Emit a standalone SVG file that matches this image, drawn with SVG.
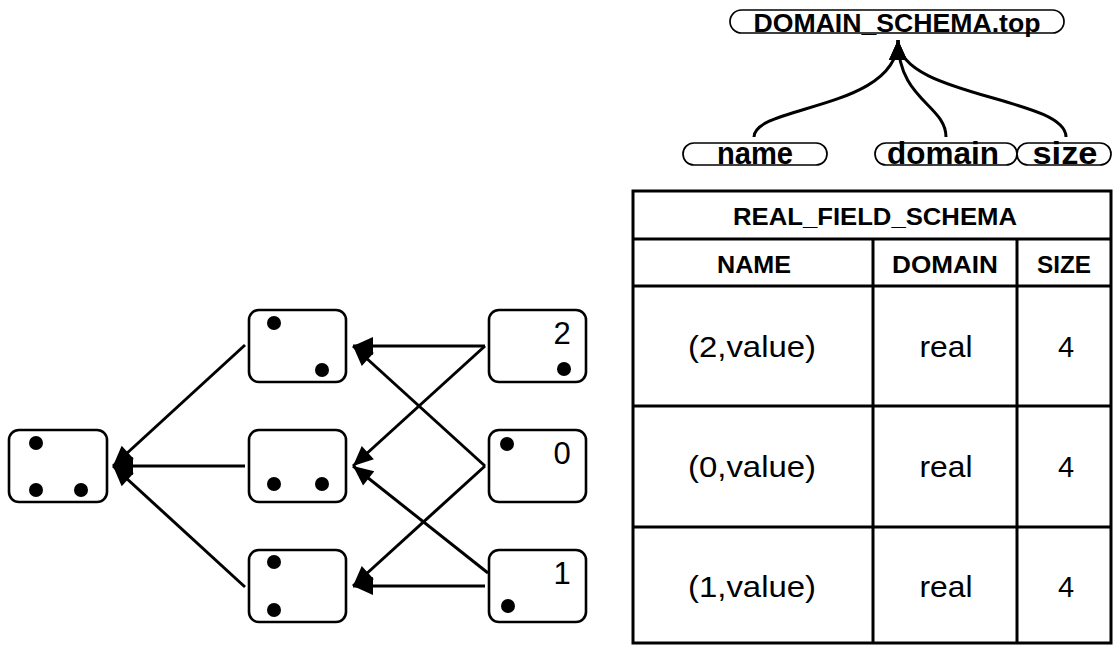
<svg xmlns="http://www.w3.org/2000/svg" width="1113" height="645" viewBox="0 0 1113 645">
<defs>
<marker id="arr" markerUnits="userSpaceOnUse" markerWidth="22" markerHeight="20" refX="20" refY="9" orient="auto" overflow="visible">
<path d="M0,0 L20,9 L0,18 Z" fill="#000"/>
</marker>
<style>
.node{fill:#fff;stroke:#000;stroke-width:2.6}
.dot{fill:#000}
.pill{fill:#fff;stroke:#000;stroke-width:1.7}
.conn{fill:none;stroke:#000;stroke-width:3;marker-end:url(#arr)}
.tl{fill:none;stroke:#000;stroke-width:3}
.b{font-family:"Liberation Sans",Arial,sans-serif;font-weight:bold;text-anchor:middle;fill:#000}
.r{font-family:"Liberation Sans",Arial,sans-serif;text-anchor:middle;fill:#000}
</style>
</defs>
<rect width="1113" height="645" fill="#fff"/>

<g id="connectors">
<path class="conn" d="M245,345 L113,466"/>
<path class="conn" d="M245,466 L113,466"/>
<path class="conn" d="M245,587 L113,466"/>
<path class="conn" d="M485,346 L353,346"/>
<path class="conn" d="M485,346 L353,466"/>
<path class="conn" d="M485,466 L353,346"/>
<path class="conn" d="M485,466 L353,586"/>
<path class="conn" d="M488,573 L353,466"/>
<path class="conn" d="M485,586 L353,586"/>
<path class="conn" d="M754,137 C754,105 898,110 898,40"/>
<path class="conn" d="M946,137 C946,105 898,100 898,40"/>
<path class="conn" d="M1066,137 C1066,97 898,97 898,40"/>
</g>

<g id="node-left">
<rect class="node" x="9" y="430" width="98" height="72" rx="10"/>
<circle class="dot" cx="36" cy="443" r="7"/>
<circle class="dot" cx="36" cy="490" r="7"/>
<circle class="dot" cx="81" cy="490" r="7"/>
</g>
<g id="node-mid-top">
<rect class="node" x="249" y="310" width="97" height="72" rx="10"/>
<circle class="dot" cx="274" cy="323" r="7"/>
<circle class="dot" cx="322" cy="370" r="7"/>
</g>
<g id="node-mid-mid">
<rect class="node" x="249" y="430" width="97" height="72" rx="10"/>
<circle class="dot" cx="274" cy="484" r="7"/>
<circle class="dot" cx="322" cy="484" r="7"/>
</g>
<g id="node-mid-bot">
<rect class="node" x="249" y="550" width="97" height="72" rx="10"/>
<circle class="dot" cx="274" cy="562" r="7"/>
<circle class="dot" cx="274" cy="610" r="7"/>
</g>
<g id="node-2">
<rect class="node" x="489" y="310" width="97" height="72" rx="10"/>
<circle class="dot" cx="564" cy="369" r="7"/>
<text class="r" x="562" y="344" font-size="31">2</text>
</g>
<g id="node-0">
<rect class="node" x="489" y="430" width="97" height="72" rx="10"/>
<circle class="dot" cx="507" cy="444" r="7"/>
<text class="r" x="562" y="464" font-size="31">0</text>
</g>
<g id="node-1">
<rect class="node" x="489" y="550" width="97" height="72" rx="10"/>
<circle class="dot" cx="508" cy="606" r="7"/>
<text class="r" x="562" y="584" font-size="31">1</text>
</g>

<g id="pill-top">
<rect class="pill" x="730" y="10" width="334" height="23" rx="11.5"/>
<text class="b" x="897" y="32" font-size="26" textLength="287" lengthAdjust="spacingAndGlyphs">DOMAIN_SCHEMA.top</text>
</g>
<g id="pill-name">
<rect class="pill" x="683" y="143" width="144" height="22" rx="11"/>
<text class="b" x="755" y="164" font-size="31" textLength="76" lengthAdjust="spacingAndGlyphs">name</text>
</g>
<g id="pill-domain">
<rect class="pill" x="875" y="143" width="142" height="22" rx="11"/>
<text class="b" x="943" y="164" font-size="31" textLength="112" lengthAdjust="spacingAndGlyphs">domain</text>
</g>
<g id="pill-size">
<rect class="pill" x="1017" y="143" width="94" height="22" rx="11"/>
<text class="b" x="1065" y="164" font-size="31" textLength="65" lengthAdjust="spacingAndGlyphs">size</text>
</g>

<g id="table">
<rect class="tl" x="633" y="191" width="478" height="452"/>
<line class="tl" x1="633" y1="239" x2="1111" y2="239"/>
<line class="tl" x1="633" y1="286" x2="1111" y2="286"/>
<line class="tl" x1="633" y1="406" x2="1111" y2="406"/>
<line class="tl" x1="633" y1="527" x2="1111" y2="527"/>
<line class="tl" x1="873" y1="239" x2="873" y2="643"/>
<line class="tl" x1="1017" y1="239" x2="1017" y2="643"/>
<text class="b" x="875" y="225" font-size="24" textLength="284" lengthAdjust="spacingAndGlyphs">REAL_FIELD_SCHEMA</text>
<text class="b" x="754" y="273" font-size="24" textLength="74" lengthAdjust="spacingAndGlyphs">NAME</text>
<text class="b" x="945" y="273" font-size="24" textLength="106" lengthAdjust="spacingAndGlyphs">DOMAIN</text>
<text class="b" x="1064" y="273" font-size="24" textLength="54" lengthAdjust="spacingAndGlyphs">SIZE</text>
<text class="r" x="752" y="357" font-size="29" textLength="128" lengthAdjust="spacingAndGlyphs">(2,value)</text>
<text class="r" x="946" y="357" font-size="29" textLength="53" lengthAdjust="spacingAndGlyphs">real</text>
<text class="r" x="1066" y="357" font-size="29">4</text>
<text class="r" x="752" y="477" font-size="29" textLength="128" lengthAdjust="spacingAndGlyphs">(0,value)</text>
<text class="r" x="946" y="477" font-size="29" textLength="53" lengthAdjust="spacingAndGlyphs">real</text>
<text class="r" x="1066" y="477" font-size="29">4</text>
<text class="r" x="752" y="597" font-size="29" textLength="128" lengthAdjust="spacingAndGlyphs">(1,value)</text>
<text class="r" x="946" y="597" font-size="29" textLength="53" lengthAdjust="spacingAndGlyphs">real</text>
<text class="r" x="1066" y="597" font-size="29">4</text>
</g>
</svg>
